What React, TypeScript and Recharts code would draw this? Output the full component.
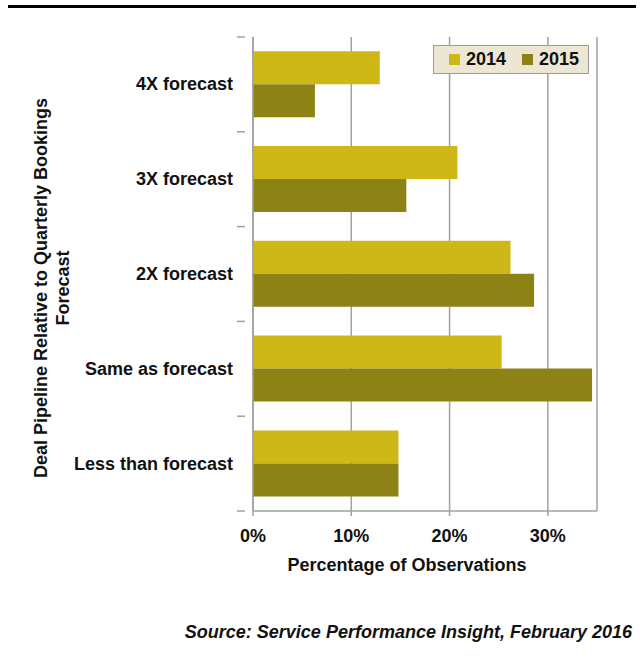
import React from 'react';
import { BarChart, Bar, XAxis, YAxis, CartesianGrid } from 'recharts';

const categories = ['4X forecast', '3X forecast', '2X forecast', 'Same as forecast', 'Less than forecast'];
const values2014 = [12.9, 20.8, 26.2, 25.3, 14.8];
const values2015 = [6.3, 15.6, 28.6, 34.5, 14.8];
const seriesNames = ['2014', '2015'];
const xTicks = [0, 10, 20, 30];

const data = categories.map((c, i) => ({ name: c, y2014: values2014[i], y2015: values2015[i] }));

const FONT = '"Liberation Sans", Arial, sans-serif';
const C2014 = '#CDB817';
const C2015 = '#8C8216';
const COLORS = [C2014, C2015];
const AXIS = '#a0a0a0';

const W = 642;
const H = 659;
const margin = { top: 37, right: 45, left: 0, bottom: 88 };
const yAxisWidth = 253;
const xAxisHeight = 60;
const plotHeight = H - margin.top - margin.bottom - xAxisHeight;

// category label plus Excel-style tick marks at band boundaries
const CategoryTick = (props: any) => {
    const { x, y, payload, index } = props;
    const band = plotHeight / categories.length;
    return (
        <g>
            <text x={x - 12} y={y} dy={6} textAnchor="end" fontFamily={FONT} fontWeight="bold" fontSize={18} fill="#111">
                {payload.value}
            </text>
            <line x1={x - 8} x2={x} y1={y - band / 2} y2={y - band / 2} stroke={AXIS} strokeWidth={1.5} />
            {index === categories.length - 1 && (
                <line x1={x - 8} x2={x} y1={y + band / 2} y2={y + band / 2} stroke={AXIS} strokeWidth={1.5} />
            )}
        </g>
    );
};

const LegendBox = () => (
    <div
        style={{
            position: 'absolute',
            left: 433,
            top: 45,
            height: 27,
            display: 'flex',
            alignItems: 'center',
            gap: 16,
            background: '#EDE6D2',
            border: '1px solid #9a9a9a',
            padding: '0 9px 0 15px',
            fontFamily: FONT,
            fontWeight: 'bold',
            fontSize: 18,
            color: '#111',
        }}
    >
        {seriesNames.map((n, i) => (
            <span key={n} style={{ display: 'flex', alignItems: 'center', gap: 6 }}>
                <span style={{ width: 11, height: 11, background: COLORS[i], display: 'inline-block' }} />
                {n}
            </span>
        ))}
    </div>
);

export default function App() {
    return (
        <div style={{ position: 'absolute', left: 0, top: 0, width: W, height: H, background: '#fff' }}>
            <div style={{ position: 'absolute', left: 8, top: 5, width: 628, height: 3, background: '#000' }} />
            <BarChart
                width={W}
                height={H}
                data={data}
                layout="vertical"
                margin={margin}
                barGap={0}
                barCategoryGap="15%"
            >
                <CartesianGrid horizontal={false} vertical={true} stroke={AXIS} strokeWidth={1.5} />
                <XAxis
                    type="number"
                    domain={[0, 35]}
                    ticks={xTicks}
                    tickFormatter={(v) => `${v}%`}
                    height={xAxisHeight}
                    stroke={AXIS}
                    strokeWidth={1.5}
                    tickSize={5}
                    tick={{ fontFamily: FONT, fontWeight: 'bold', fontSize: 18, fill: '#111', dy: 11 }}
                    label={{
                        value: 'Percentage of Observations',
                        position: 'insideBottom',
                        offset: 0,
                        dx: -18,
                        style: { fontFamily: FONT, fontWeight: 'bold', fontSize: 18, fill: '#111' },
                    }}
                />
                <YAxis
                    type="category"
                    dataKey="name"
                    width={yAxisWidth}
                    stroke={AXIS}
                    strokeWidth={1.5}
                    tickLine={false}
                    tick={<CategoryTick />}
                    interval={0}
                    label={{
                        content: () => (
                            <g transform="translate(0, 288)">
                                <text transform="translate(47, 0) rotate(-90)" textAnchor="middle" fontFamily={FONT} fontWeight="bold" fontSize={18} fill="#111">
                                    Deal Pipeline Relative to Quarterly Bookings
                                </text>
                                <text transform="translate(69, 0) rotate(-90)" textAnchor="middle" fontFamily={FONT} fontWeight="bold" fontSize={18} fill="#111">
                                    Forecast
                                </text>
                            </g>
                        ),
                    }}
                />
                <Bar dataKey="y2014" name={seriesNames[0]} fill={C2014} isAnimationActive={false} />
                <Bar dataKey="y2015" name={seriesNames[1]} fill={C2015} isAnimationActive={false} />
            </BarChart>
            <LegendBox />
            <div
                style={{
                    position: 'absolute',
                    right: 10,
                    top: 622,
                    fontFamily: FONT,
                    fontWeight: 'bold',
                    fontStyle: 'italic',
                    fontSize: 18,
                    color: '#111',
                    whiteSpace: 'nowrap',
                }}
            >
                Source: Service Performance Insight, February 2016
            </div>
        </div>
    );
}
